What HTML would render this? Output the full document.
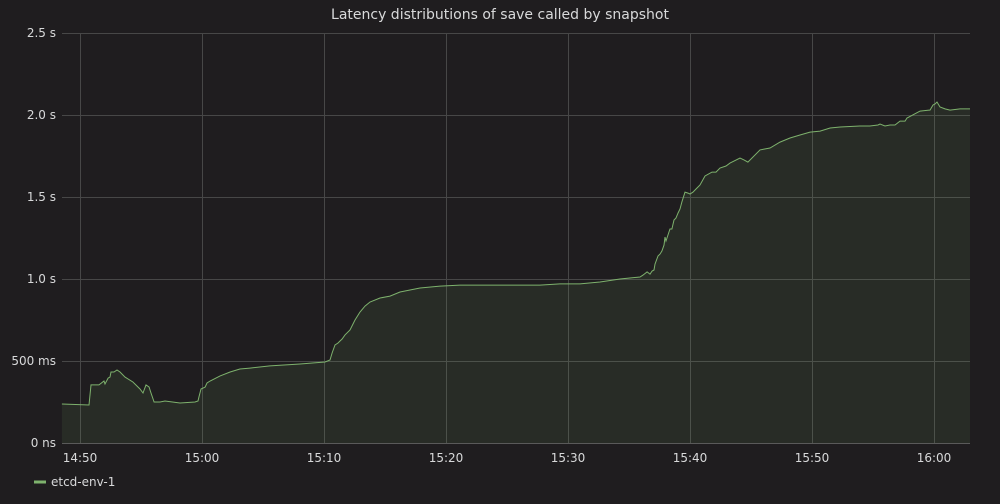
<!DOCTYPE html>
<html><head><meta charset="utf-8"><style>
body{margin:0;background:#1f1d1f;width:1000px;height:500px;overflow:hidden;font-family:"DejaVu Sans","Liberation Sans",sans-serif}
svg text{font-family:"DejaVu Sans","Liberation Sans",sans-serif}
</style></head><body>
<svg id="chart" width="1000" height="500" xmlns="http://www.w3.org/2000/svg">
<rect width="1000" height="500" fill="#1f1d1f"/>
<text x="500" y="19" text-anchor="middle" fill="#d8d9da" font-size="14" font-weight="500">Latency distributions of save called by snapshot</text>
<g id="grid"></g><g id="series"></g><g id="axes"></g>
<g>
<line x1="34" y1="482" x2="46" y2="482" stroke="#7eb26d" stroke-width="3"/>
<text x="51" y="486" fill="#d8d9da" font-size="12">etcd-env-1</text>
</g>
</svg>
<script>
// minutes relative to 14:50
const times=[-1.48,0.74,0.90,1.56,1.97,2.05,2.30,2.46,2.54,2.79,3.03,3.28,3.69,4.34,4.92,5.16,5.25,5.41,5.66,5.82,6.07,6.56,6.97,8.20,9.43,9.67,9.75,9.92,10.25,10.41,10.66,11.48,12.30,13.11,13.93,15.57,18.03,20.08,20.49,20.66,20.90,21.15,21.31,21.48,21.72,22.13,22.54,22.95,23.36,23.77,24.59,25.41,26.23,27.05,27.87,29.51,31.15,34.43,37.70,39.34,40.98,42.62,44.26,45.90,46.15,46.48,46.72,46.89,47.05,47.13,47.38,47.54,47.70,47.87,47.95,48.03,48.28,48.36,48.52,48.69,48.85,49.02,49.18,49.34,49.59,49.84,50.00,50.25,50.49,50.82,51.23,51.80,52.13,52.46,52.95,53.28,54.10,54.43,54.75,55.74,56.56,57.38,58.20,59.02,59.84,60.66,61.48,62.30,63.93,64.75,65.41,65.57,65.98,66.39,66.80,67.21,67.62,67.79,68.85,69.59,69.67,69.92,70.08,70.25,70.49,70.90,71.31,72.13,72.95];
const values=[.238,.232,.354,.354,.378,.360,.396,.402,.433,.433,.445,.433,.402,.372,.329,.305,.323,.354,.341,.305,.250,.250,.256,.244,.250,.256,.280,.329,.341,.366,.378,.409,.433,.451,.457,.470,.482,.494,.506,.549,.598,.610,.622,.634,.659,.689,.750,.799,.835,.860,.884,.896,.921,.933,.945,.957,.963,.963,.963,.970,.970,.982,1.0,1.012,1.024,1.043,1.030,1.049,1.055,1.091,1.140,1.152,1.171,1.207,1.256,1.232,1.287,1.305,1.305,1.360,1.372,1.402,1.427,1.470,1.530,1.524,1.518,1.530,1.549,1.573,1.628,1.652,1.652,1.677,1.689,1.707,1.738,1.726,1.713,1.787,1.799,1.835,1.860,1.878,1.896,1.902,1.921,1.927,1.933,1.933,1.939,1.945,1.933,1.939,1.939,1.963,1.963,1.982,2.024,2.030,2.030,2.061,2.067,2.079,2.049,2.037,2.030,2.037,2.037,2.030];
const yTicks=[0,0.5,1,1.5,2,2.5];
const yLabels=["0 ns","500 ms","1.0 s","1.5 s","2.0 s","2.5 s"];
const xTicks=[0,10,20,30,40,50,60,70];
const xLabels=["14:50","15:00","15:10","15:20","15:30","15:40","15:50","16:00"];
const L=62,R=970,T=33,B=443;
const xs=m=>80+m*12.2, ys=v=>B-(v/2.5)*(B-T);
const NS="http://www.w3.org/2000/svg";
function mk(tag,attrs,parent){const e=document.createElementNS(NS,tag);for(const k in attrs)e.setAttribute(k,attrs[k]);parent.appendChild(e);return e;}
const grid=document.getElementById('grid'),axes=document.getElementById('axes'),ser=document.getElementById('series');
yTicks.forEach((v,i)=>{
 const l=mk('line',{x1:L,x2:R,y1:ys(v)+0.5,y2:ys(v)+0.5,stroke:i==0?'#5a5a5a':'#474747','stroke-width':1},grid);
 
 
 const t=mk('text',{x:56,y:ys(v)+4,'text-anchor':'end',fill:'#d8d9da','font-size':12},axes);
 t.textContent=yLabels[i];
 
 
});
xTicks.forEach((m,i)=>{
 const l=mk('line',{x1:xs(m)+0.5,x2:xs(m)+0.5,y1:T,y2:B,stroke:'#474747','stroke-width':1},grid);
 
 
 const t=mk('text',{x:xs(m),y:462,'text-anchor':'middle',fill:'#d8d9da','font-size':12},axes);
 t.textContent=xLabels[i];
 
 
});
let d='';times.forEach((m,i)=>{d+=(i?'L':'M')+xs(m).toFixed(1)+','+ys(values[i]).toFixed(1);});
const area=mk('path',{d:d+'L'+xs(times[times.length-1]).toFixed(1)+','+B+'L'+xs(times[0]).toFixed(1)+','+B+'Z',fill:'#7eb26d','fill-opacity':0.1},ser);


const line=mk('path',{d:d,fill:'none',stroke:'#7eb26d','stroke-width':1},ser);


</script>
</body></html>
